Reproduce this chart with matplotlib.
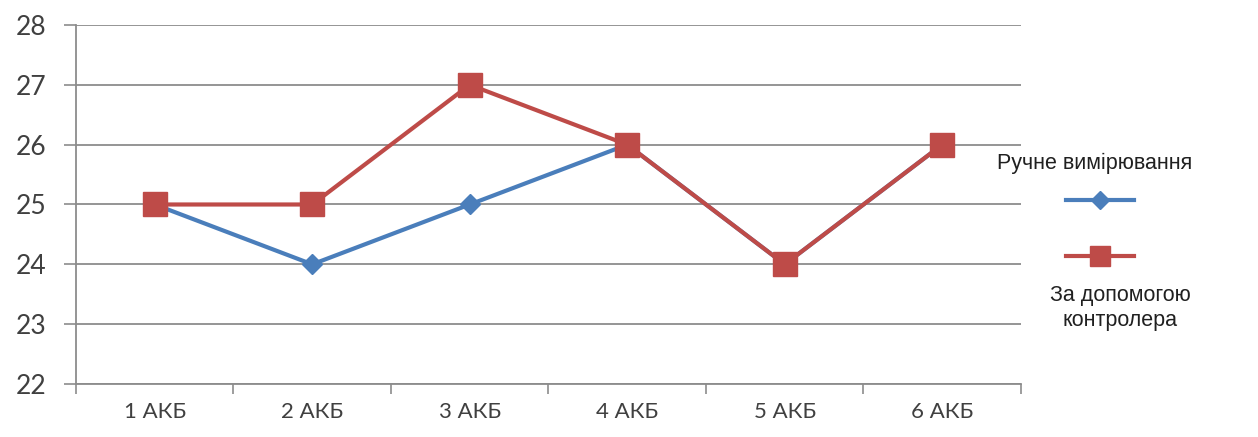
import matplotlib
matplotlib.use("Agg")
import matplotlib.pyplot as plt
from matplotlib.lines import Line2D

categories = ["1 АКБ", "2 АКБ", "3 АКБ", "4 АКБ", "5 АКБ", "6 АКБ"]
manual = [25, 24, 25, 26, 24, 26]
controller = [25, 25, 27, 26, 24, 26]
series_names = ["Ручне вимірювання", "За допомогою\nконтролера"]
y_ticks = [22, 23, 24, 25, 26, 27, 28]

BLUE = "#4A7EBB"
RED = "#BE4B48"
GRID = "#8c8c8c"
TXT = "#404040"

fig = plt.figure(figsize=(12.58, 4.37), dpi=100)
ax = fig.add_axes([0.0604, 0.1213, 0.7512, 0.8215])

x = list(range(len(categories)))
ax.plot(x, manual, color=BLUE, lw=3, marker="D", ms=10, mec=BLUE, mfc=BLUE, zorder=3)
ax.plot(x, controller, color=RED, lw=3, marker="s", ms=17, mec=RED, mfc=RED, zorder=4)

ax.set_xlim(-0.5, len(categories) - 0.5)
ax.set_ylim(22, 28)
ax.set_yticks(y_ticks)
ax.set_yticklabels([str(v) for v in y_ticks], fontsize=19, color=TXT, family="Lato")
ax.set_xticks(x)
ax.set_xticklabels(categories, fontsize=16, color=TXT, family="Lato")
ax.set_xticks([i - 0.5 for i in range(len(categories) + 1)], minor=True)
ax.tick_params(axis="x", which="major", length=0, pad=13)
ax.tick_params(axis="x", which="minor", length=7, color=GRID, width=1.2)
ax.tick_params(axis="y", length=9, color=GRID, width=1.2, pad=12)
ax.yaxis.grid(True, color=GRID, lw=1.3)
ax.set_axisbelow(True)
for s in ["top", "right"]:
    ax.spines[s].set_visible(False)
for s in ["left", "bottom"]:
    ax.spines[s].set_color(GRID)
    ax.spines[s].set_linewidth(1.3)

# custom legend
fig.text(1095 / 1258, 1 - 163 / 437, series_names[0], ha="center", va="center",
         fontsize=15.5, color="#202020", family="Liberation Sans")
fig.add_artist(Line2D([1066 / 1258, 1134 / 1258], [1 - 200 / 437] * 2, color=BLUE, lw=3,
                      transform=fig.transFigure))
fig.add_artist(Line2D([1100 / 1258], [1 - 200 / 437], color=BLUE, marker="D", ms=9, lw=0,
                      transform=fig.transFigure))
fig.add_artist(Line2D([1066 / 1258, 1134 / 1258], [1 - 256 / 437] * 2, color=RED, lw=3,
                      transform=fig.transFigure))
fig.add_artist(Line2D([1100 / 1258], [1 - 256 / 437], color=RED, marker="s", ms=14, lw=0,
                      transform=fig.transFigure))
fig.text(1120 / 1258, 1 - 308 / 437, series_names[1], ha="center", va="center",
         fontsize=15.5, color="#202020", family="Liberation Sans", linespacing=1.3)

fig.savefig("out.png", dpi=100)
